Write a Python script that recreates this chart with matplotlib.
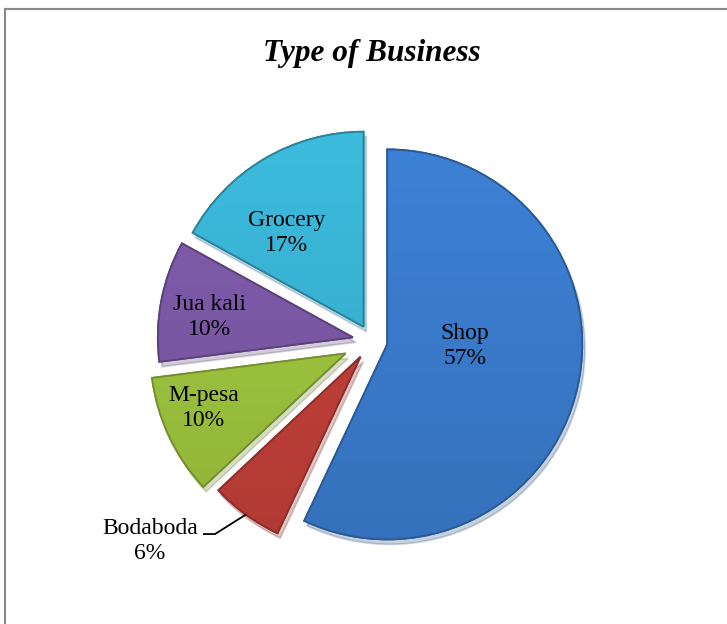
import numpy as np
import matplotlib
matplotlib.use('Agg')
import matplotlib.pyplot as plt
from matplotlib.lines import Line2D
from matplotlib import colors as mcolors

# data
labels = ['Shop', 'Bodaboda', 'M-pesa', 'Jua kali', 'Grocery']
shares = [57, 6, 10, 10, 17]
slice_colors = ['#3b7dcf', '#c4403a', '#a0c63f', '#7d5aa8', '#3ab5d6']
explode = [0.08, 0.10, 0.15, 0.10, 0.085]
# label centres in data units (pie radius = 1)
label_pos = [(0.477, -0.026), (-1.138, -1.026), (-0.862, -0.344),
             (-0.831, 0.123), (-0.436, 0.554)]

plt.rcParams['font.family'] = ['Liberation Serif', 'DejaVu Serif']

W, H = 727, 624
fig = plt.figure(figsize=(W / 100, H / 100), dpi=100)
ax = fig.add_axes([0, 0, 1, 1])

# pixel layout of the pie
cx, cy, rad = 372, 341, 195

def scale(c, f):
    r, g, b = mcolors.to_rgb(c)
    return tuple(min(1, v * f) for v in (r, g, b))

wedges, _ = ax.pie(shares, colors=slice_colors, startangle=90, counterclock=False,
                   explode=explode, radius=1.0, center=(0, 0), frame=True,
                   shadow={'ox': 0.01, 'oy': -0.018, 'shade': 0.4, 'alpha': 0.25},
                   wedgeprops=dict(linewidth=1.3))

ax.set_xlim(-cx / rad, (W - cx) / rad)
ax.set_ylim(-(H - cy) / rad, cy / rad)
ax.set_aspect('auto')
ax.axis('off')

# soft vertical gradient inside every slice, clipped to the wedge
x0, x1 = ax.get_xlim()
y0, y1 = ax.get_ylim()
ramp = np.linspace(0, 1, 256)[:, None]
for w, c in zip(wedges, slice_colors):
    w.set_edgecolor(scale(c, 0.75))
    top = np.array(scale(c, 1.08))
    bot = np.array(scale(c, 0.88))
    img = top[None, None, :] * (1 - ramp[:, :, None]) + bot[None, None, :] * ramp[:, :, None]
    im = ax.imshow(img, extent=(x0, x1, y0, y1), origin='upper', aspect='auto',
                   zorder=w.get_zorder() + 0.1, interpolation='bilinear')
    im.set_clip_path(w)
    edge = matplotlib.patches.Wedge(w.center, w.r, w.theta1, w.theta2,
                                    facecolor='none', edgecolor=scale(c, 0.72),
                                    linewidth=1.3, zorder=w.get_zorder() + 0.2)
    ax.add_patch(edge)

ax.set_xlim(x0, x1)
ax.set_ylim(y0, y1)

for i, (lab, s) in enumerate(zip(labels, shares)):
    x, y = label_pos[i]
    ax.text(x, y, f'{lab}\n{s}%', ha='center', va='center', fontsize=17,
            linespacing=1.3, color='black', zorder=10)

# leader line for the small outside label
w = wedges[1]
mid = np.deg2rad((w.theta1 + w.theta2) / 2)
ox, oy = w.center
tip = (ox + np.cos(mid) * 1.0, oy + np.sin(mid) * 1.0)
lx, ly = label_pos[1]
start = (lx + 0.271, ly + 0.036)
knee = (start[0] + 0.062, start[1])
ax.plot([start[0], knee[0], tip[0]], [start[1], knee[1], tip[1]],
        color='black', lw=1.3, solid_capstyle='butt', zorder=10)

ax.text(0, (cy - 53) / rad, 'Type of Business', ha='center', va='center',
        fontsize=22.5, fontweight='bold', fontstyle='italic')

# chart frame (left and top edges visible)
fig.add_artist(Line2D([5 / W, 5 / W], [0, 1 - 9 / H], color='#888888', lw=1.5))
fig.add_artist(Line2D([5 / W, 1], [1 - 9 / H, 1 - 9 / H], color='#888888', lw=1.5))

fig.savefig('out.png', dpi=100, facecolor='white')
